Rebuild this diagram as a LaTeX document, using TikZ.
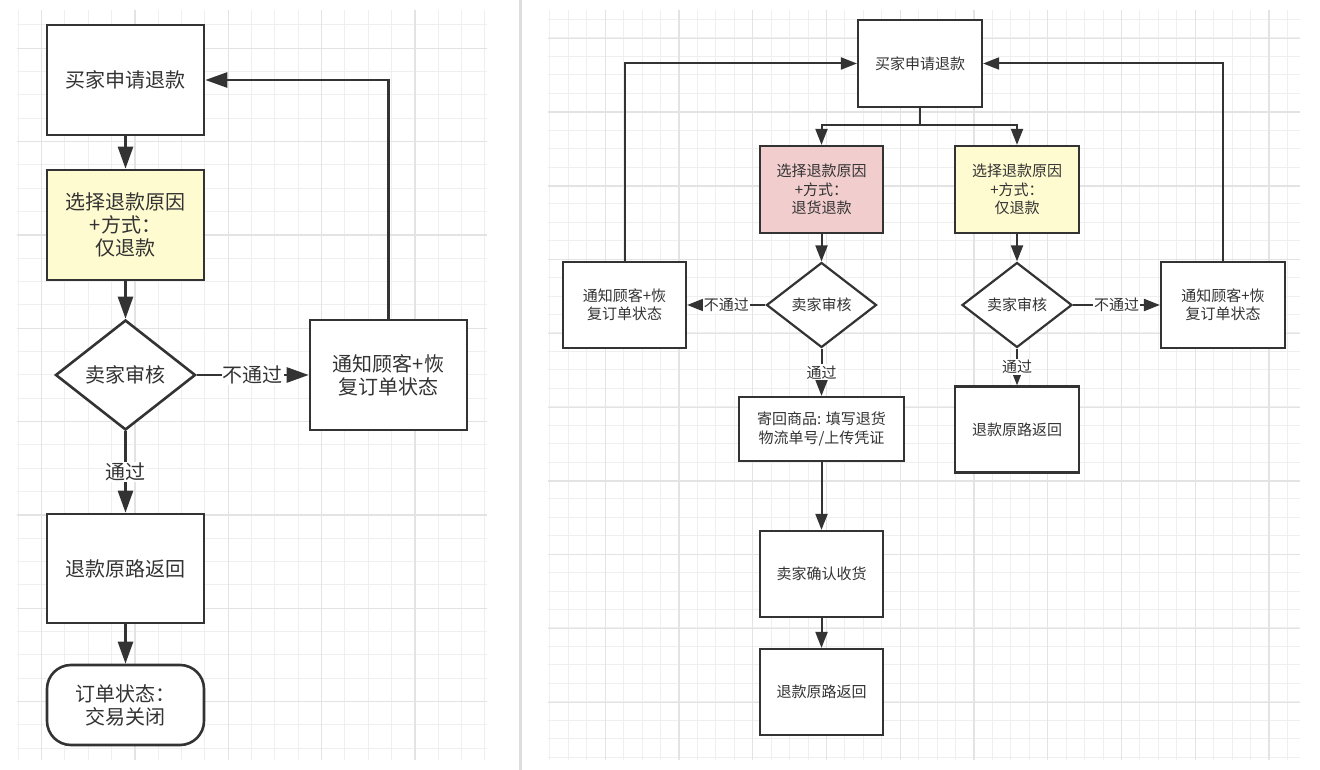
\documentclass[tikz,border=0pt]{standalone}
\usepackage{fontspec}
\newfontfamily\cjk{Noto Sans CJK SC}
\usetikzlibrary{shapes.geometric,arrows.meta}
\definecolor{ink}{HTML}{333333}
\definecolor{yel}{HTML}{FFFBD0}
\definecolor{pnk}{HTML}{F2CDCD}
\definecolor{gmin}{HTML}{EFEFEF}
\definecolor{gmaj}{HTML}{E3E3E3}
\definecolor{sepc}{HTML}{DDDDDD}
\begin{document}
\begin{tikzpicture}[x=1pt,y=-1pt,
  bigfont/.style={font=\cjk\fontsize{20}{23}\selectfont},
  smallfont/.style={font=\cjk\fontsize{15}{18.3}\selectfont},
  bigbox/.style={draw=ink, line width=2.6pt, fill=white, minimum width=157pt, minimum height=110pt, inner sep=0pt, align=center, text=ink, bigfont},
  bigdia/.style={diamond, aspect=1.27, draw=ink, line width=2.6pt, fill=white, minimum width=140pt, minimum height=110pt, inner sep=0pt, text=ink, bigfont},
  bigterm/.style={bigbox, rounded corners=24pt, minimum height=80pt},
  smallbox/.style={draw=ink, line width=2.2pt, fill=white, minimum width=123pt, minimum height=86pt, inner sep=0pt, align=center, text=ink, smallfont},
  smalldia/.style={diamond, aspect=1.29, draw=ink, line width=2.2pt, fill=white, minimum width=110pt, minimum height=85pt, inner sep=0pt, text=ink, smallfont},
  bigarrow/.style={draw=ink, line width=2.6pt, -{Triangle[length=22pt,width=15pt]}},
  smallarrow/.style={draw=ink, line width=2pt, -{Triangle[length=16pt,width=12pt]}},
  smallline/.style={draw=ink, line width=2pt},
  biglab/.style={fill=white, inner sep=1pt, text=ink, bigfont},
  smalllab/.style={fill=white, inner sep=1pt, text=ink, smallfont},
  gminor/.style={draw=gmin, line width=1pt},
  gmajor/.style={draw=gmaj, line width=1.4pt}
]
\useasboundingbox (0,0) rectangle (1320,770);
\fill[white] (0,0) rectangle (1320,770);
% separator
\draw[sepc, line width=2.2pt] (520.5,0) -- (520.5,770);
% left grid
\begin{scope}
\clip (17,10) rectangle (487,760);
\foreach \i in {0,...,20} {\draw[gminor] ({18.333+23.333*\i},10) -- ({18.333+23.333*\i},760);}
\foreach \i in {0,...,32} {\draw[gminor] (17,{1.667+23.333*\i}) -- (487,{1.667+23.333*\i});}
\foreach \i in {0,...,5} {\draw[gmajor] ({41.667+93.333*\i},10) -- ({41.667+93.333*\i},760);}
\foreach \i in {0,...,8} {\draw[gmajor] (17,{48.333+93.333*\i}) -- (487,{48.333+93.333*\i});}
\end{scope}
% right grid
\begin{scope}
\clip (548,10) rectangle (1300,760);
\foreach \i in {0,...,41} {\draw[gminor] ({549.9+18.4375*\i},10) -- ({549.9+18.4375*\i},760);}
\foreach \i in {0,...,41} {\draw[gminor] (548,{1.1+18.4375*\i}) -- (1300,{1.1+18.4375*\i});}
\foreach \i in {0,...,10} {\draw[gmajor] ({605.25+73.75*\i},10) -- ({605.25+73.75*\i},760);}
\foreach \i in {0,...,10} {\draw[gmajor] (548,{38.45+73.75*\i}) -- (1300,{38.45+73.75*\i});}
\end{scope}

% ---------- left panel ----------
\node[bigbox] (L1) at (125.5,80) {买家申请退款};
\node[bigbox, fill=yel] (L2) at (125.5,225) {选择退款原因\\+方式：\\仅退款};
\node[bigdia] (LD) at (125.5,375) {卖家审核};
\node[bigbox] (LN) at (388.5,375) {通知顾客+恢\\复订单状态};
\node[bigbox, minimum height=109pt] (L3) at (125.5,568.5) {退款原路返回};
\node[bigterm] (L4) at (125.5,705) {订单状态：\\交易关闭};

\draw[bigarrow] (L1.south) -- (L2.north);
\draw[bigarrow] (L2.south) -- (LD.north);
\draw[bigarrow] (LD.east) -- node[biglab] {不通过} (LN.west);
\draw[bigarrow] (LN.north) |- (L1.east);
\draw[bigarrow] (LD.south) -- node[biglab] {通过} (L3.north);
\draw[bigarrow] (L3.south) -- (L4.north);

% ---------- right panel ----------
\node[smallbox, minimum width=124pt, minimum height=87pt] (R0) at (920,63.5) {买家申请退款};
\node[smallbox, fill=pnk, minimum height=87pt] (RP) at (821.5,189.5) {选择退款原因\\+方式：\\退货退款};
\node[smallbox, fill=yel, minimum width=124pt, minimum height=87pt] (RY) at (1017,189.5) {选择退款原因\\+方式：\\仅退款};
\coordinate (split) at (920,125);
\draw[smallline] (R0.south) -- (split);
\draw[smallarrow] (split) -| (RP.north);
\draw[smallarrow] (split) -| (RY.north);

\node[smalldia] (RDa) at (821.5,305) {卖家审核};
\node[smallbox] (RNa) at (624.5,305) {通知顾客+恢\\复订单状态};
\node[smallbox, minimum width=165pt, minimum height=64pt] (RS) at (821.5,429) {寄回商品: 填写退货\\物流单号/上传凭证};
\node[smallbox] (RC) at (821.5,574) {卖家确认收货};
\node[smallbox] (RR) at (821.5,692) {退款原路返回};

\draw[smallarrow] (RP.south) -- (RDa.north);
\draw[smallarrow] (RDa.west) -- node[smalllab] {不通过} (RNa.east);
\draw[smallarrow] (RNa.north) |- (R0.west);
\draw[smallarrow] (RDa.south) -- node[smalllab] {通过} (RS.north);
\draw[smallarrow] (RS.south) -- (RC.north);
\draw[smallarrow] (RC.south) -- (RR.north);

\node[smalldia] (RDb) at (1017,305) {卖家审核};
\node[smallbox, minimum width=124pt] (RNb) at (1223,305) {通知顾客+恢\\复订单状态};
\node[smallbox, minimum width=124pt] (RR2) at (1017,429.5) {退款原路返回};

\draw[smallarrow] (RY.south) -- (RDb.north);
\draw[smallarrow] (RDb.east) -- node[smalllab] {不通过} (RNb.west);
\draw[smallarrow] (RNb.north) |- (R0.east);
\draw[smallarrow] (RDb.south) -- node[smalllab] {通过} (RR2.north);
\end{tikzpicture}
\end{document}
